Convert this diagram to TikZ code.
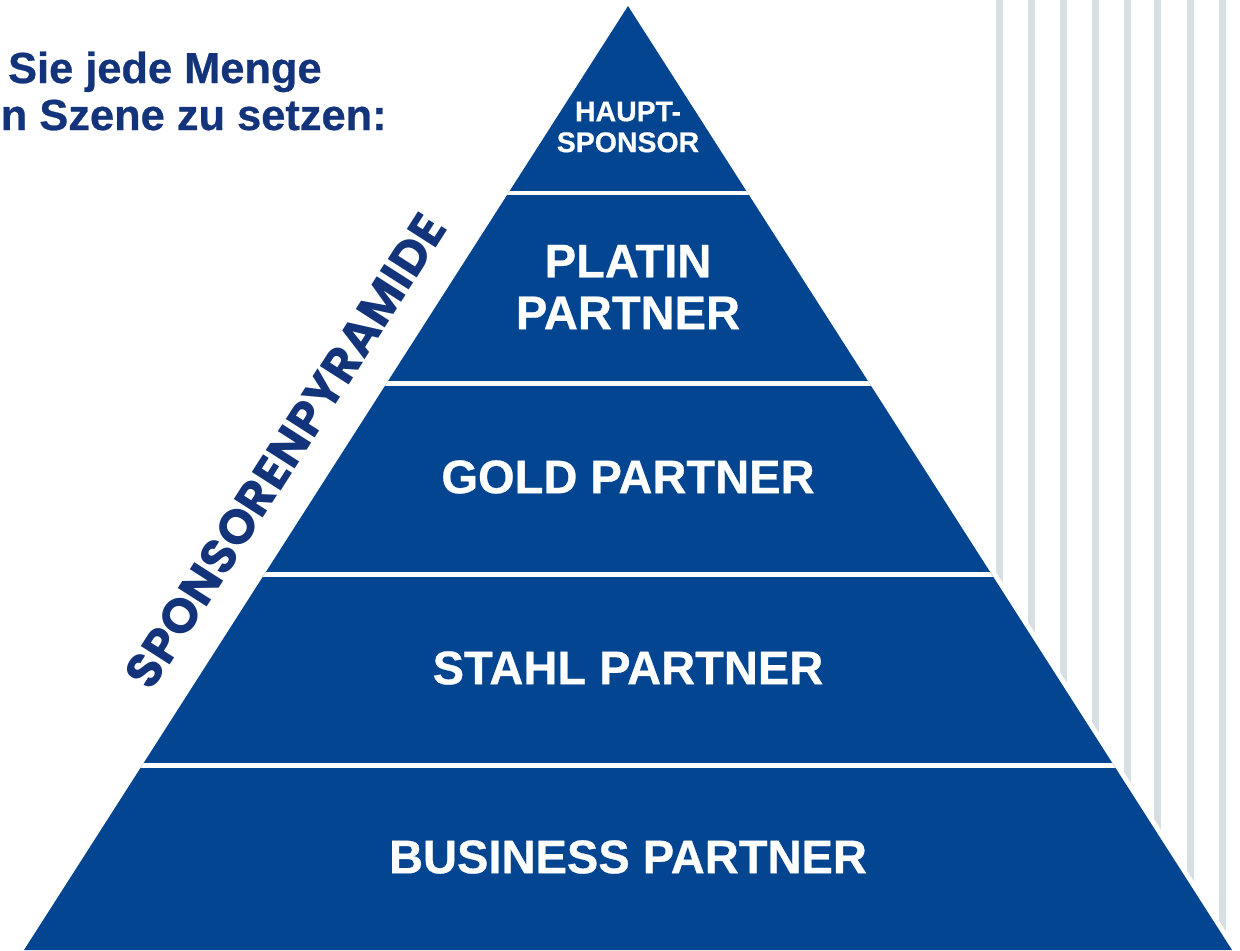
\documentclass[tikz,border=0pt]{standalone}
\usepackage{fontspec}
\setmainfont{Liberation Sans}
\newfontfamily\heavy[FakeBold=0.6]{Liberation Sans Bold}
\newfontfamily\pop{Poppins}
\definecolor{pyr}{RGB}{3,69,145}
\definecolor{navy}{RGB}{19,52,122}
\definecolor{stripe}{RGB}{216,223,226}
\tikzset{
  bandlbl/.style={text=white, font=\heavy\fontsize{26.8}{29.5}\selectfont, align=center, inner sep=0pt},
  toplbl/.style={text=white, font=\heavy\fontsize{16.2}{17.6}\selectfont, align=center, inner sep=0pt},
  headlbl/.style={text=navy, font=\heavy\fontsize{24.7}{28}\selectfont, inner sep=0pt},
  sidelbl/.style={text=navy, font=\pop\bfseries\fontsize{27.8}{27.8}\selectfont, inner sep=0pt}
}
\begin{document}
\begin{tikzpicture}[x=0.02cm,y=-0.02cm]
\useasboundingbox (0,0) rectangle (1240,950);
% background stripes
\foreach \s in {996,1028,1060,1092,1124,1154,1187,1219}
  \fill[stripe] (\s,0) rectangle (\s+7,950);
% pyramid
\coordinate (apex) at (628,6);
\coordinate (bl) at (24,950);
\coordinate (br) at (1232,950);
\draw[white, line width=5.5pt, line join=miter] (apex) -- (bl) -- (br) -- cycle;
\fill[pyr] (apex) -- (bl) -- (br) -- cycle;
\begin{scope}
  \clip (apex) -- (bl) -- (br) -- cycle;
  \foreach \y in {193,383.5,574.5,765.5}
    \draw[white, line width=2.6pt] (0,\y) -- (1240,\y);
\end{scope}
% labels
\node[toplbl] (haupt) at (628,127) {HAUPT-\\SPONSOR};
\node[bandlbl] (platin) at (628,287) {PLATIN\\PARTNER};
\node[bandlbl] (gold) at (628,477) {GOLD PARTNER};
\node[bandlbl] (stahl) at (628,668) {STAHL PARTNER};
\node[bandlbl] (business) at (628,857) {BUSINESS PARTNER};
\node[sidelbl, rotate=57.4] (side) at (286,451) {SPONSORENPYRAMIDE};
% heading
\node[headlbl, anchor=base east] (l1) at (322,83) {Sie jede Menge};
\node[headlbl, anchor=base east] (l2) at (387,130) {n Szene zu setzen:};
\end{tikzpicture}
\end{document}
